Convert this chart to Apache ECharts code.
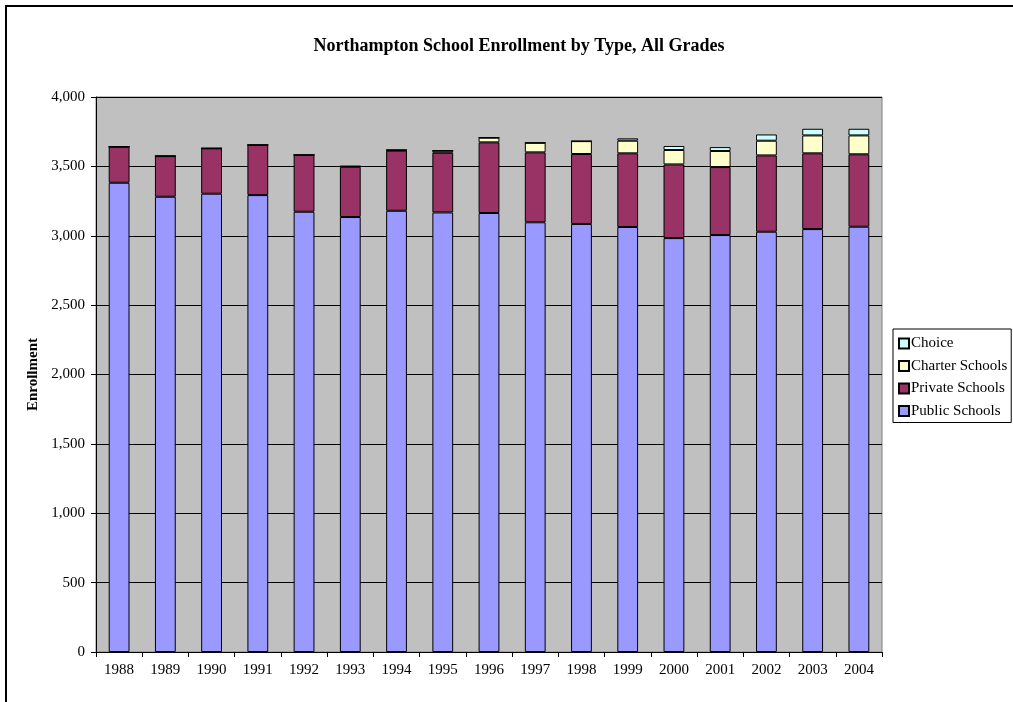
<!DOCTYPE html>
<html>
<head>
<meta charset="utf-8">
<script src="https://cdn.jsdelivr.net/npm/echarts@6/dist/echarts.min.js"></script>
<style>
  html, body { margin: 0; padding: 0; background: #fff; }
  #chart { width: 1013px; height: 702px; }
</style>
</head>
<body>
<div id="chart"></div>
<script>
// 数据
const years = ['1988', '1989', '1990', '1991', '1992', '1993', '1994', '1995', '1996',
  '1997', '1998', '1999', '2000', '2001', '2002', '2003', '2004'];
const publicSchools = [3382, 3281, 3303, 3293, 3173, 3135, 3180, 3168, 3164,
  3097, 3085, 3063, 2983, 3005, 3029, 3048, 3065];
const privateSchools = [260, 293, 327, 361, 409, 362, 433, 430, 509,
  504, 504, 531, 531, 490, 550, 546, 522];
const charterSchools = [0, 0, 0, 0, 0, 4, 5, 15, 34,
  69, 93, 91, 104, 116, 106, 129, 136];
const choice = [0, 0, 0, 0, 0, 0, 0, 0, 0,
  0, 0, 17, 29, 28, 45, 48, 48];
const yTicks = { min: 0, max: 4000, interval: 500 };

const font = 'Liberation Serif, Times New Roman, serif';
const chart = echarts.init(document.getElementById('chart'));

function barSeries(name, data, color) {
  return {
    name: name,
    type: 'bar',
    stack: 'total',
    data: data,
    barCategoryGap: '55%',
    itemStyle: { color: color, borderColor: '#000', borderWidth: 1 },
    emphasis: { disabled: true }
  };
}

const option = {
  animation: false,
  textStyle: { fontFamily: font },
  title: {
    text: 'Northampton School Enrollment by Type, All Grades',
    left: 514,
    textAlign: 'center',
    top: 32,
    textStyle: { fontFamily: font, fontSize: 18, fontWeight: 'bold', color: '#000' }
  },
  legend: {
    orient: 'vertical',
    left: 893,
    top: 329,
    width: 119,
    padding: [7, 4, 4, 5],
    itemGap: 7.5,
    itemWidth: 10,
    itemHeight: 10,
    icon: 'rect',
    borderColor: '#000',
    borderWidth: 1,
    backgroundColor: '#fff',
    data: ['Choice', 'Charter Schools', 'Private Schools', 'Public Schools'],
    textStyle: { fontFamily: font, fontSize: 15, color: '#000', padding: [0, 0, 0, -3] }
  },
  grid: {
    left: 96,
    top: 97,
    right: 131,
    bottom: 50,
    show: true,
    backgroundColor: '#C0C0C0',
    borderColor: '#808080',
    borderWidth: 1
  },
  xAxis: {
    type: 'category',
    data: years,
    axisLine: { lineStyle: { color: '#000', width: 1 } },
    axisTick: { show: true, interval: 0, length: 5, lineStyle: { color: '#000' } },
    axisLabel: { interval: 0, fontFamily: font, fontSize: 15, color: '#000', margin: 11 }
  },
  yAxis: {
    type: 'value',
    min: yTicks.min,
    max: yTicks.max,
    interval: yTicks.interval,
    name: 'Enrollment',
    nameLocation: 'middle',
    nameGap: 49,
    nameTextStyle: { fontFamily: font, fontSize: 15, fontWeight: 'bold', color: '#000' },
    axisLine: { show: true, lineStyle: { color: '#000', width: 1 } },
    axisTick: { show: true, length: 5, lineStyle: { color: '#000' } },
    splitLine: { lineStyle: { color: '#000', width: 1 } },
    axisLabel: {
      fontFamily: font, fontSize: 15, color: '#000', margin: 11,
      formatter: v => v.toLocaleString('en-US')
    }
  },
  graphic: [{
    type: 'rect',
    shape: { x: 6, y: 6, width: 1030, height: 720 },
    style: { fill: 'none', stroke: '#000', lineWidth: 2 },
    silent: true
  }],
  series: [
    barSeries('Public Schools', publicSchools, '#9999FF'),
    barSeries('Private Schools', privateSchools, '#993366'),
    barSeries('Charter Schools', charterSchools, '#FFFFCC'),
    barSeries('Choice', choice, '#CCFFFF')
  ]
};

chart.setOption(option);
</script>
</body>
</html>
